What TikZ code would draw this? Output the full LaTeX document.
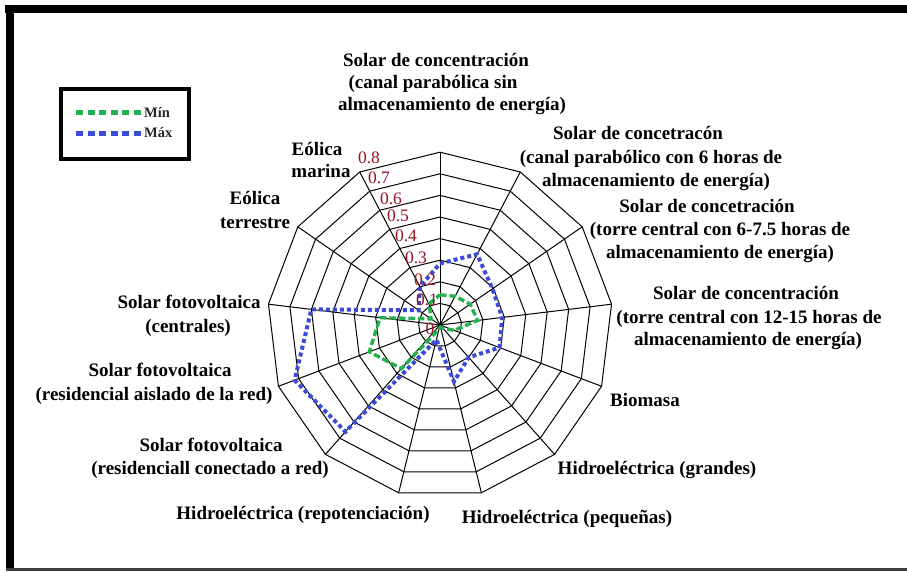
\documentclass[tikz,border=0pt]{standalone}
\usepackage{fontspec}
\setmainfont{Liberation Serif}
\definecolor{mingreen}{RGB}{34,177,76}
\definecolor{maxblue}{RGB}{60,75,215}
\definecolor{tickred}{RGB}{150,20,35}
\begin{document}
\begin{tikzpicture}[x=1pt,y=-1pt,
  lbl/.style={font=\fontsize{19}{23}\selectfont\bfseries, inner sep=0pt, anchor=base},
  ticklbl/.style={font=\fontsize{17.5}{20}\selectfont, text=tickred, inner sep=0pt},
  legtxt/.style={font=\fontsize{14.5}{17}\selectfont\bfseries, text=black!85, inner sep=0pt, anchor=west},
  web/.style={draw=black, line width=1pt},
  minline/.style={draw=mingreen, line width=3.4pt, dash pattern=on 6.5pt off 3pt},
  maxline/.style={draw=maxblue, line width=4pt, dash pattern=on 4pt off 3pt},
  legmin/.style={draw=mingreen, line width=5pt, dash pattern=on 7pt off 4.5pt},
  legmax/.style={draw=maxblue, line width=5pt, dash pattern=on 7pt off 4.5pt}]
\useasboundingbox (0,0) rectangle (907,571);
\fill[white] (0,0) rectangle (907,571);
% frame
\fill[black] (5,5) rectangle (907,13);
\fill[black] (6,5) rectangle (14,571);
\fill[black!75] (6,568) rectangle (907,570.5);
% legend
\draw[line width=3.5pt] (61,89) rectangle (189,159);
\coordinate (lg1) at (76,112); \coordinate (lg2) at (141,112);
\coordinate (lb1) at (76,133); \coordinate (lb2) at (141,133);
\draw[legmin] (lg1) -- (lg2);
\draw[legmax] (lb1) -- (lb2);
\node[legtxt] (tmin) at (144,112) {Mín};
\node[legtxt] (tmax) at (144,133) {Máx};
% radar
\begin{scope}[shift={(440,325)}, yscale=-1]
  \foreach \k in {1,...,8} {
    \draw[web] (90:{\k*21.6}) \foreach \i in {1,...,12} { -- ({90-\i*360/13}:{\k*21.6}) } -- cycle;
  }
  \foreach \i in {0,...,12} {
    \draw[web] (0,0) -- ({90-\i*360/13}:172.8);
  }
  \foreach \v [count=\i from 0] in {0.14,0.15,0.17,0.175,0.07,0.02,0.01,0.02,0.27,0.35,0.28,0.05,0.11} {
    \coordinate (g\i) at ({90-\i*360/13}:{\v*216});
  }
  \foreach \v [count=\i from 0] in {0.285,0.37,0.295,0.29,0.295,0.2,0.27,0.07,0.66,0.72,0.6,0.12,0.2} {
    \coordinate (b\i) at ({90-\i*360/13}:{\v*216});
  }
  \draw[minline] (g0) -- (g1) -- (g2) -- (g3) -- (g4) -- (g5) -- (g6) -- (g7) -- (g8) -- (g9) -- (g10) -- (g11) -- (g12) -- cycle;
  \draw[maxline] (b0) -- (b1) -- (b2) -- (b3) -- (b4) -- (b5) -- (b6) -- (b7) -- (b8) -- (b9) -- (b10) -- (b11) -- (b12) -- cycle;
\end{scope}
% tick labels
\node[ticklbl] (t0) at (430,329) {0};
\node[ticklbl] (t1) at (427,300) {0.1};
\node[ticklbl] (t2) at (425,280) {0.2};
\node[ticklbl] (t3) at (416,258) {0.3};
\node[ticklbl] (t4) at (406,236) {0.4};
\node[ticklbl] (t5) at (398,216) {0.5};
\node[ticklbl] (t6) at (391,198.5) {0.6};
\node[ticklbl] (t7) at (379,178) {0.7};
\node[ticklbl] (t8) at (369,158) {0.8};
% category labels (one node per printed line; y = baseline)
\node[lbl] (a0l1) at (436,66) {Solar de concentración};
\node[lbl] (a0l2) at (433,88) {(canal parabólica sin};
\node[lbl] (a0l3) at (452,110) {almacenamiento de energía)};
\node[lbl] (a1l1) at (638,139) {Solar de concetracón};
\node[lbl] (a1l2) at (651,163) {(canal parabólico con 6 horas de};
\node[lbl] (a1l3) at (656,186) {almacenamiento de energía)};
\node[lbl] (a2l1) at (707,212) {Solar de concetración};
\node[lbl] (a2l2) at (720,235) {(torre central con 6-7.5 horas de};
\node[lbl] (a2l3) at (720,258) {almacenamiento de energía)};
\node[lbl] (a3l1) at (746,299) {Solar de concentración};
\node[lbl] (a3l2) at (749,323) {(torre central con 12-15 horas de};
\node[lbl] (a3l3) at (748,345) {almacenamiento de energía)};
\node[lbl] (a4) at (645,406) {Biomasa};
\node[lbl] (a5) at (657,474) {Hidroeléctrica (grandes)};
\node[lbl] (a6) at (567,523) {Hidroeléctrica (pequeñas)};
\node[lbl] (a7) at (303,519) {Hidroeléctrica (repotenciación)};
\node[lbl] (a8l1) at (211,451) {Solar fotovoltaica};
\node[lbl] (a8l2) at (210,474) {(residenciall conectado a red)};
\node[lbl] (a9l1) at (160,376) {Solar fotovoltaica};
\node[lbl] (a9l2) at (154,400) {(residencial aislado de la red)};
\node[lbl] (a10l1) at (189,308) {Solar fotovoltaica};
\node[lbl] (a10l2) at (188,332) {(centrales)};
\node[lbl] (a11l1) at (255,204) {Eólica};
\node[lbl] (a11l2) at (255,228) {terrestre};
\node[lbl] (a12l1) at (317,155) {Eólica};
\node[lbl] (a12l2) at (321,177) {marina};
\end{tikzpicture}
\end{document}
